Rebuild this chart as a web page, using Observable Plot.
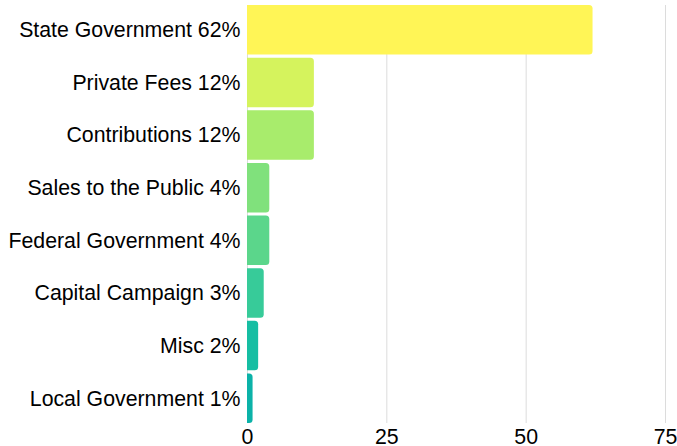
<!DOCTYPE html>
<html>
<head>
<meta charset="utf-8">
<script src="https://cdn.jsdelivr.net/npm/d3@7"></script>
<script src="https://cdn.jsdelivr.net/npm/@observablehq/plot@0.6"></script>
<style>
  html, body { margin: 0; padding: 0; background: #fff; }
  #chart svg { display: block; }
</style>
</head>
<body>
<div id="chart"></div>
<script>
const categories = ["State Government", "Private Fees", "Contributions", "Sales to the Public", "Federal Government", "Capital Campaign", "Misc", "Local Government"];
const values = [62, 12, 12, 4, 4, 3, 2, 1];
const colors = ["#fff556", "#d5f35d", "#a8ec6c", "#80e17c", "#5bd68b", "#37cb99", "#16bea3", "#0bb2a8"];
const xTicks = [0, 25, 50, 75];

const labels = categories.map((c, i) => `${c} ${values[i]}%`);
const data = categories.map((c, i) => ({label: labels[i], value: values[i], color: colors[i]}));

const chart = Plot.plot({
  width: 677,
  height: 446,
  marginTop: 5,
  marginBottom: 23,
  marginLeft: 247,
  marginRight: 12,
  style: {fontFamily: "'Liberation Sans', Arial, sans-serif", fontSize: "21.3px", color: "#000", background: "#fff"},
  x: {domain: [0, 75], ticks: xTicks, label: null},
  y: {domain: labels, paddingInner: 0.06, paddingOuter: 0, round: false, label: null},
  marks: [
    Plot.gridX(xTicks, {stroke: "#dcdcdc", strokeOpacity: 1, strokeWidth: 1}),
    Plot.barX(data, {x: "value", y: "label", fill: "color", rx2: 3.5}),
    Plot.axisX({ticks: xTicks, tickSize: 0, tickPadding: 5, fontSize: 21.3, label: null}),
    Plot.axisY({tickSize: 0, tickPadding: 7, fontSize: 21.3, label: null})
  ]
});
document.getElementById("chart").appendChild(chart);
</script>
</body>
</html>
